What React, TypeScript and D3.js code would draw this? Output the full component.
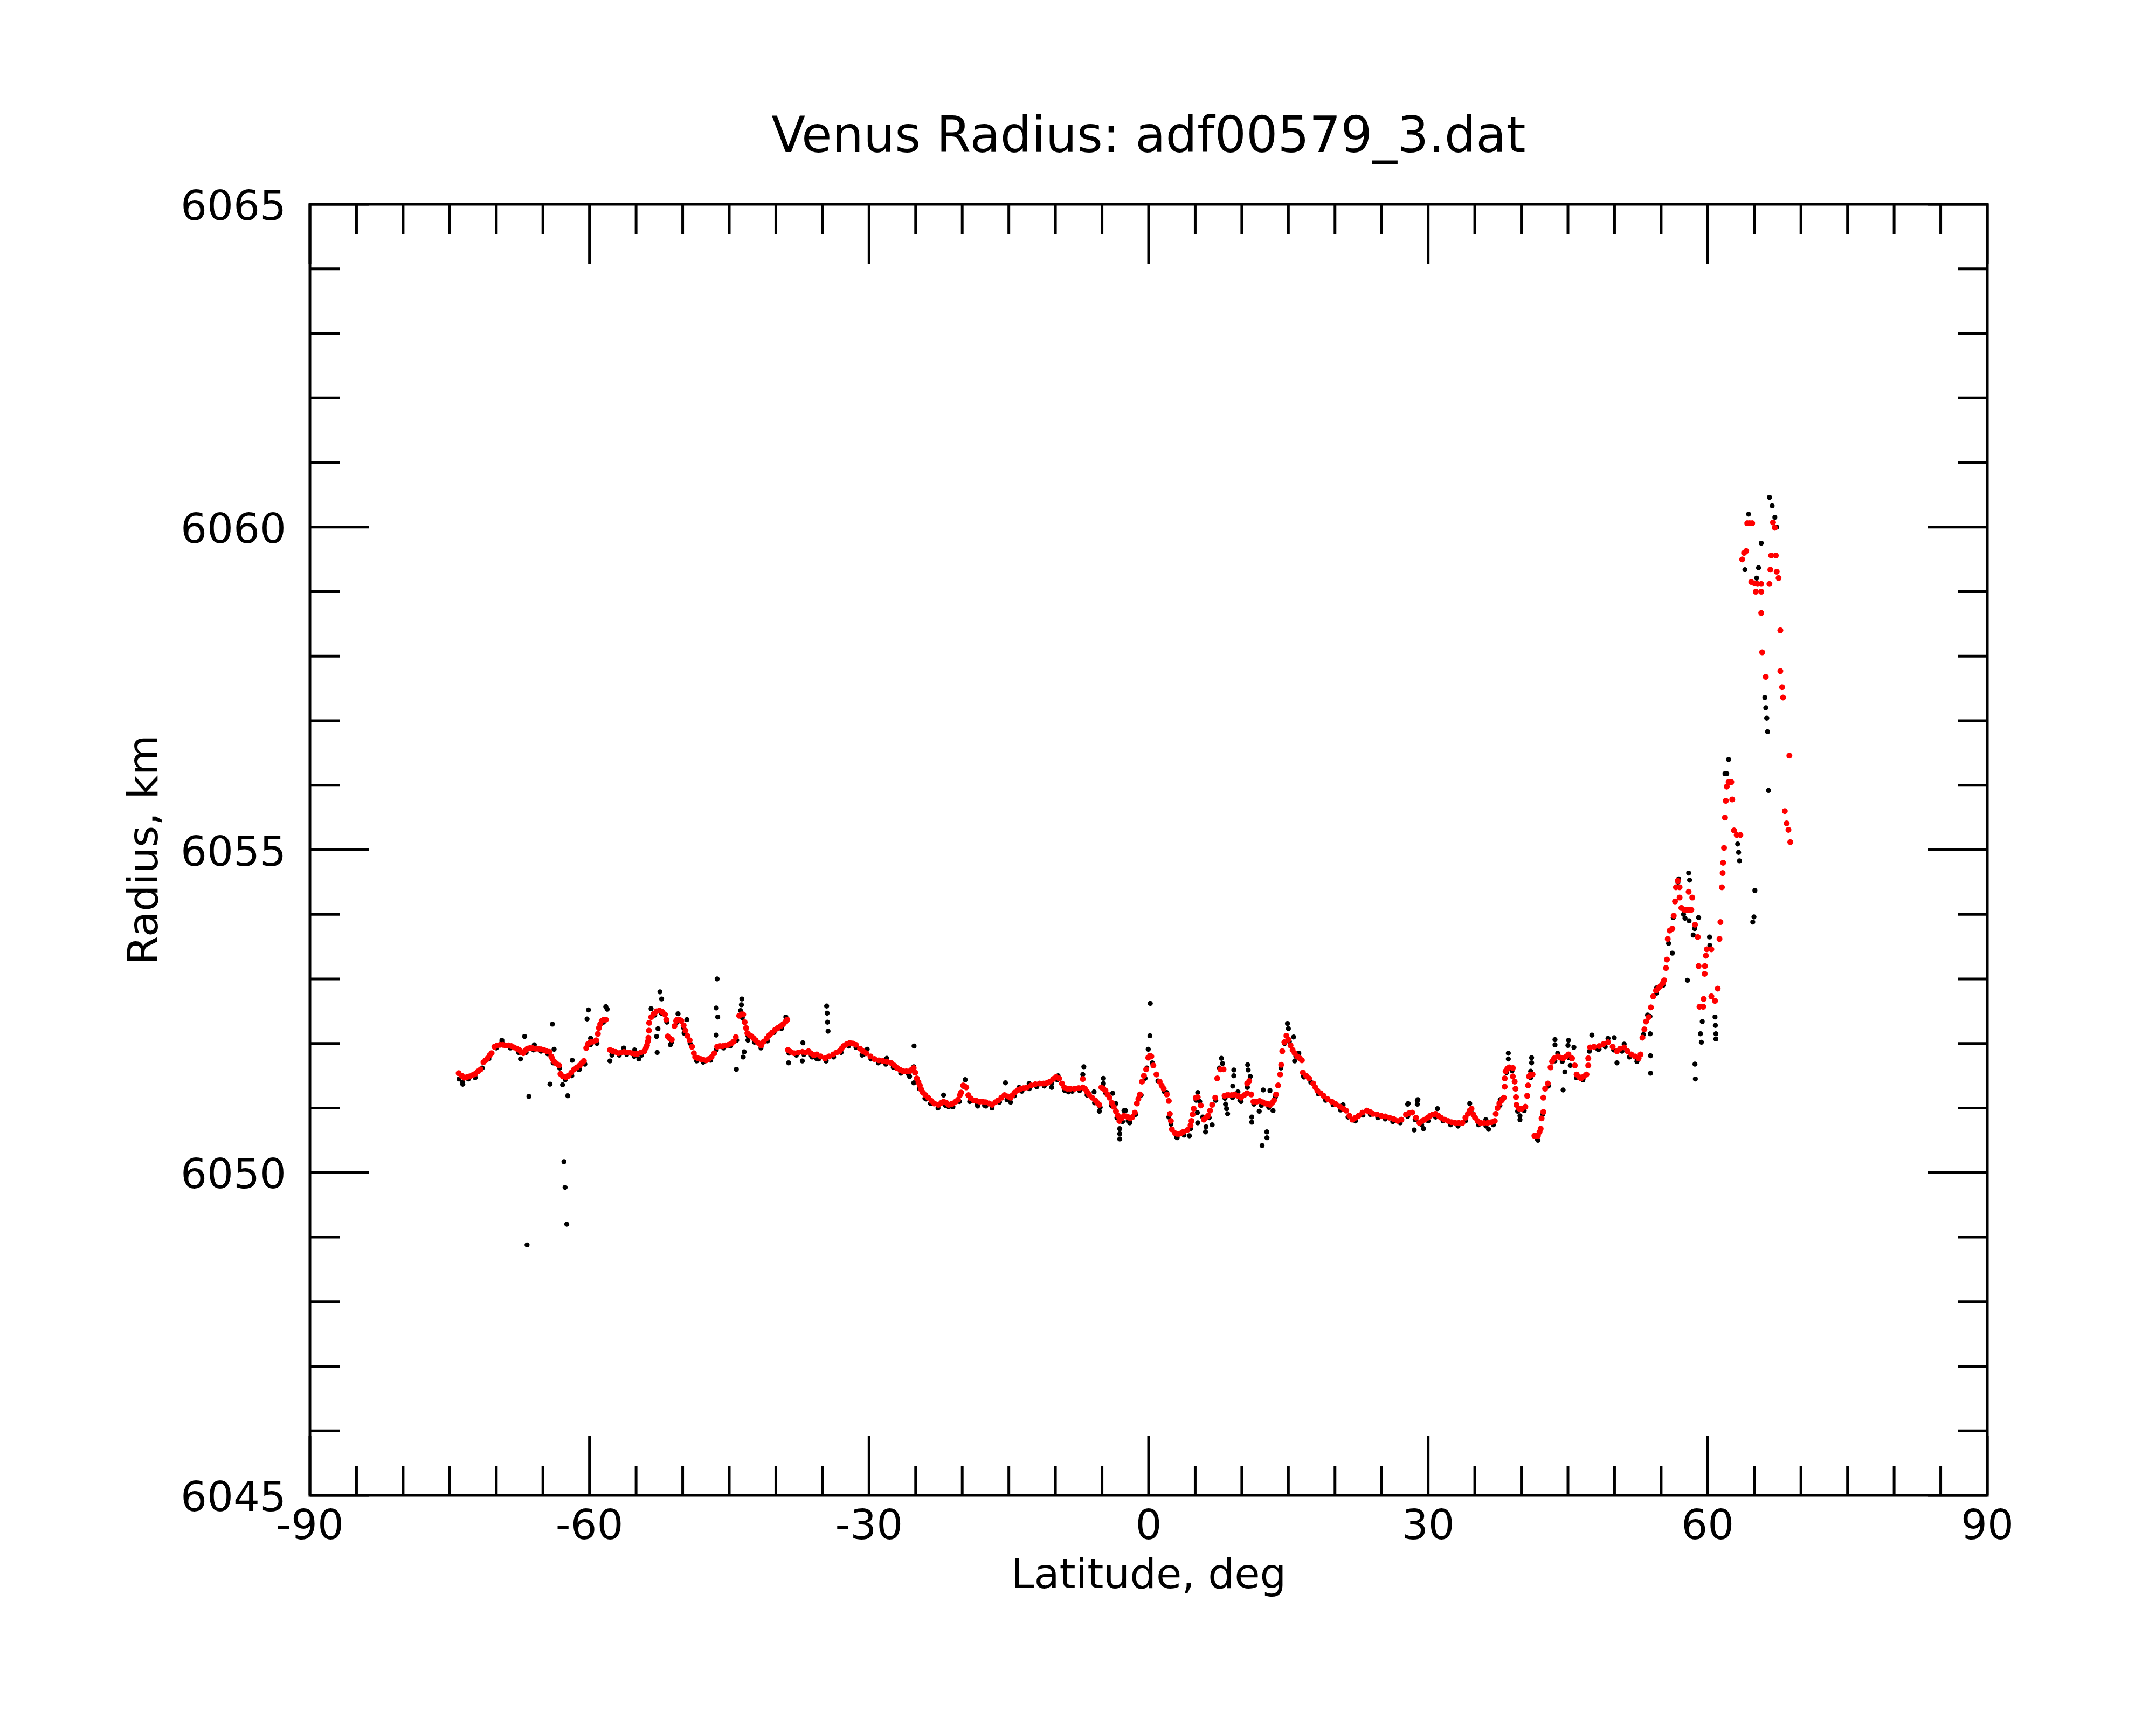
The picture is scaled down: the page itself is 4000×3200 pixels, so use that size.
import React from "react";
import * as d3 from "d3";

// ---------- chart text ----------
const title = "Venus Radius: adf00579_3.dat";
const xLabel = "Latitude, deg";
const yLabel = "Radius, km";
const xMajorTicks = [-90, -60, -30, 0, 30, 60, 90];
const yMajorTicks = [6045, 6050, 6055, 6060, 6065];

// ---------- smoothed profile (red) [latitude, radius] ----------
const smoothSouth: [number, number][] = [
  [-74.04, 6051.54], [-73.7, 6051.5], [-73.45, 6051.47], [-73.15, 6051.48], [-72.86, 6051.49],
  [-72.55, 6051.51], [-72.27, 6051.53], [-71.95, 6051.57], [-71.68, 6051.6], [-71.38, 6051.71],
  [-71.15, 6051.74], [-70.94, 6051.77], [-70.7, 6051.82], [-70.5, 6051.85], [-70.2, 6051.95],
  [-69.9, 6051.97], [-69.6, 6051.98], [-69.3, 6051.98], [-69.0, 6051.97], [-68.7, 6051.97],
  [-68.4, 6051.96], [-68.1, 6051.94], [-67.8, 6051.92], [-67.55, 6051.9], [-67.3, 6051.86],
  [-67.1, 6051.85], [-66.9, 6051.89], [-66.66, 6051.92], [-66.4, 6051.93], [-66.1, 6051.93],
  [-65.78, 6051.92], [-65.5, 6051.92], [-65.2, 6051.91], [-64.9, 6051.9], [-64.6, 6051.88],
  [-64.3, 6051.87], [-64.1, 6051.8], [-64.0, 6051.77], [-63.8, 6051.72], [-63.56, 6051.69],
  [-63.27, 6051.66], [-63.12, 6051.53], [-62.85, 6051.49], [-62.53, 6051.48], [-62.24, 6051.5],
  [-61.95, 6051.55], [-61.65, 6051.6], [-61.35, 6051.63], [-61.06, 6051.66], [-60.8, 6051.7],
  [-60.6, 6051.73], [-60.35, 6051.93], [-60.17, 6051.99], [-59.9, 6052.02], [-59.6, 6052.03],
  [-59.28, 6052.05], [-59.1, 6052.15], [-58.99, 6052.24], [-58.85, 6052.3], [-58.69, 6052.35],
  [-58.45, 6052.37], [-58.25, 6052.37], [-57.8, 6051.9], [-57.5, 6051.88], [-57.2, 6051.87],
  [-56.9, 6051.85], [-56.6, 6051.86], [-56.3, 6051.87], [-56.0, 6051.86], [-55.75, 6051.86],
  [-55.45, 6051.85], [-55.15, 6051.84], [-54.86, 6051.84], [-54.5, 6051.86], [-54.12, 6051.88],
  [-53.95, 6051.93], [-53.83, 6051.97], [-53.75, 6052.03], [-53.68, 6052.09], [-53.62, 6052.2],
  [-53.6, 6052.32], [-53.38, 6052.41], [-53.1, 6052.46], [-52.8, 6052.5], [-52.5, 6052.51],
  [-52.2, 6052.49], [-51.9, 6052.45], [-51.76, 6052.37], [-51.6, 6052.11], [-51.4, 6052.08],
  [-51.17, 6052.06], [-50.88, 6052.27], [-50.7, 6052.35], [-50.58, 6052.37], [-50.35, 6052.37],
  [-50.14, 6052.35], [-49.9, 6052.28], [-49.7, 6052.2], [-49.5, 6052.12], [-49.25, 6052.05],
  [-49.0, 6051.95], [-48.8, 6051.85], [-48.66, 6051.79], [-48.35, 6051.77], [-48.07, 6051.76],
  [-47.8, 6051.75], [-47.48, 6051.74], [-47.2, 6051.76], [-46.9, 6051.79], [-46.6, 6051.85],
  [-46.3, 6051.95], [-46.0, 6051.96], [-45.7, 6051.96], [-45.4, 6051.97], [-45.1, 6051.98],
  [-44.8, 6052.0], [-44.53, 6052.03], [-44.3, 6052.1], [-43.94, 6052.43], [-43.7, 6052.45],
  [-43.5, 6052.45], [-43.35, 6052.33], [-43.2, 6052.24], [-43.06, 6052.16], [-42.85, 6052.13],
  [-42.6, 6052.11], [-42.4, 6052.08], [-42.17, 6052.05], [-41.9, 6052.01], [-41.58, 6051.97],
  [-41.3, 6052.03], [-40.99, 6052.08], [-40.7, 6052.13], [-40.4, 6052.17], [-40.1, 6052.21],
  [-39.8, 6052.24], [-39.5, 6052.27], [-39.22, 6052.3], [-38.95, 6052.34], [-38.78, 6052.37],
];

const smoothMiddle: [number, number][] = [
  [-38.7, 6051.9], [-38.4, 6051.87], [-38.04, 6051.85], [-37.6, 6051.86], [-37.16, 6051.87],
  [-36.8, 6051.86], [-36.5, 6051.88], [-36.27, 6051.85], [-35.95, 6051.82], [-35.61, 6051.83],
  [-35.2, 6051.8], [-34.73, 6051.77], [-34.3, 6051.8], [-33.84, 6051.83], [-33.5, 6051.86],
  [-33.18, 6051.88], [-32.95, 6051.92], [-32.74, 6051.96], [-32.4, 6051.99], [-32.07, 6052.01],
  [-31.75, 6052.0], [-31.41, 6051.98], [-30.97, 6051.92], [-30.65, 6051.88], [-30.3, 6051.85],
  [-29.85, 6051.8], [-29.42, 6051.76], [-28.95, 6051.74], [-28.53, 6051.73], [-28.1, 6051.72],
  [-27.65, 6051.7], [-27.3, 6051.66], [-26.98, 6051.62], [-26.65, 6051.59], [-26.32, 6051.57],
  [-26.0, 6051.57], [-25.65, 6051.57], [-25.4, 6051.6], [-25.21, 6051.62], [-25.05, 6051.55],
  [-24.88, 6051.46], [-24.7, 6051.4], [-24.55, 6051.35], [-24.4, 6051.29], [-24.22, 6051.24],
  [-23.95, 6051.2], [-23.66, 6051.16], [-23.3, 6051.11], [-23.0, 6051.07], [-22.56, 6051.05],
  [-22.25, 6051.08], [-22.0, 6051.1], [-21.7, 6051.08], [-21.45, 6051.05], [-21.2, 6051.06],
  [-21.0, 6051.07], [-20.7, 6051.1], [-20.45, 6051.13], [-20.25, 6051.2], [-20.12, 6051.24],
  [-19.9, 6051.35], [-19.75, 6051.34], [-19.57, 6051.32], [-19.35, 6051.2], [-19.1, 6051.15],
  [-18.79, 6051.12], [-18.45, 6051.11], [-18.13, 6051.1], [-17.8, 6051.1], [-17.47, 6051.09],
  [-17.1, 6051.07], [-16.8, 6051.05], [-16.45, 6051.09], [-16.14, 6051.12], [-15.8, 6051.16],
  [-15.47, 6051.2], [-15.1, 6051.18], [-14.81, 6051.16], [-14.6, 6051.2], [-14.37, 6051.24],
  [-14.0, 6051.28], [-13.7, 6051.3], [-13.4, 6051.31], [-13.04, 6051.32], [-12.6, 6051.35],
  [-12.15, 6051.37], [-11.7, 6051.38], [-11.27, 6051.38], [-10.9, 6051.39], [-10.6, 6051.41],
  [-10.25, 6051.45], [-9.94, 6051.48], [-9.61, 6051.46], [-9.3, 6051.38], [-9.05, 6051.32],
  [-8.7, 6051.3], [-8.39, 6051.3], [-7.95, 6051.3], [-7.5, 6051.31], [-7.06, 6051.32],
  [-7.06, 6051.45], [-6.84, 6051.3], [-6.6, 6051.25], [-6.4, 6051.21], [-6.05, 6051.16],
  [-5.73, 6051.12], [-5.5, 6051.08], [-5.29, 6051.05], [-5.07, 6051.32], [-4.85, 6051.3],
  [-4.63, 6051.27], [-4.4, 6051.21], [-4.19, 6051.16], [-3.95, 6051.08], [-3.74, 6051.02],
  [-3.5, 6050.95], [-3.3, 6050.88], [-3.14, 6050.8], [-2.9, 6050.84], [-2.64, 6050.88],
  [-2.4, 6050.87], [-2.2, 6050.86], [-1.97, 6050.84], [-1.75, 6050.86], [-1.48, 6050.93],
  [-1.26, 6051.07], [-1.1, 6051.14], [-0.93, 6051.21], [-0.71, 6051.41], [-0.5, 6051.5],
  [-0.26, 6051.6], [-0.04, 6051.78], [0.15, 6051.81], [0.29, 6051.8], [0.51, 6051.66],
  [0.84, 6051.52], [1.18, 6051.41], [1.4, 6051.35], [1.62, 6051.3], [1.95, 6051.21],
  [2.17, 6051.11], [2.28, 6050.91], [2.39, 6050.8], [2.5, 6050.67], [2.84, 6050.61],
  [3.05, 6050.6], [3.28, 6050.6], [3.5, 6050.61], [3.72, 6050.63], [4.16, 6050.66],
  [4.5, 6050.73], [4.6, 6050.8], [4.72, 6050.9], [4.83, 6050.99], [5.05, 6051.16],
  [5.27, 6051.17], [5.6, 6051.04], [5.93, 6050.82], [6.15, 6050.85], [6.38, 6050.88],
  [6.6, 6050.96], [6.82, 6051.05], [7.15, 6051.16], [7.37, 6051.46], [7.7, 6051.6],
  [8.04, 6051.6], [8.15, 6051.19], [8.4, 6051.2], [8.6, 6051.2], [8.9, 6051.2],
  [9.25, 6051.21], [9.6, 6051.19], [9.92, 6051.16], [10.25, 6051.2], [10.58, 6051.23],
  [10.58, 6051.38], [10.8, 6051.42], [11.02, 6051.21], [11.25, 6051.1], [11.6, 6051.1],
  [11.91, 6051.11], [12.25, 6051.09], [12.57, 6051.07], [12.8, 6051.06], [13.02, 6051.05],
  [13.25, 6051.08], [13.46, 6051.12], [13.68, 6051.21], [13.9, 6051.35], [14.12, 6051.52],
  [14.23, 6051.67], [14.34, 6051.88], [14.57, 6052.02], [14.79, 6052.12], [15.01, 6052.06],
  [15.23, 6051.97], [15.45, 6051.9], [15.67, 6051.85], [15.95, 6051.8], [16.23, 6051.77],
  [16.45, 6051.74], [16.56, 6051.55], [16.9, 6051.5], [17.22, 6051.46], [17.67, 6051.38],
  [17.9, 6051.32], [18.11, 6051.27], [18.45, 6051.23], [18.78, 6051.19], [19.2, 6051.14],
  [19.66, 6051.1], [20.1, 6051.06], [20.54, 6051.02], [20.9, 6050.99], [21.2, 6050.96],
  [21.55, 6050.88], [21.87, 6050.82], [22.2, 6050.85], [22.53, 6050.88], [22.95, 6050.93],
  [23.42, 6050.96], [23.75, 6050.94], [24.08, 6050.91], [24.5, 6050.9], [24.97, 6050.88],
  [25.4, 6050.87], [25.85, 6050.85], [26.3, 6050.83], [26.74, 6050.8], [27.13, 6050.82],
  [27.62, 6050.9], [27.95, 6050.92], [28.29, 6050.93], [28.7, 6050.85], [29.06, 6050.77],
  [29.35, 6050.8], [29.64, 6050.82], [29.95, 6050.85], [30.21, 6050.88], [30.5, 6050.9],
  [30.79, 6050.91], [31.1, 6050.88], [31.37, 6050.85], [31.75, 6050.82], [32.14, 6050.8],
  [32.5, 6050.78], [32.91, 6050.77], [33.3, 6050.77], [33.68, 6050.77], [34.0, 6050.85],
  [34.26, 6050.91], [34.45, 6050.96], [34.65, 6050.99], [34.85, 6050.9], [35.03, 6050.85],
  [35.3, 6050.8], [35.61, 6050.77], [36.0, 6050.77], [36.38, 6050.77], [36.8, 6050.78],
  [37.15, 6050.8], [37.25, 6050.91], [37.45, 6051.0], [37.64, 6051.07], [37.9, 6051.12],
  [38.12, 6051.16], [38.21, 6051.33], [38.21, 6051.46], [38.31, 6051.57], [38.5, 6051.61],
  [38.7, 6051.63], [39.08, 6051.62], [39.08, 6051.49], [39.28, 6051.41], [39.37, 6051.3],
  [39.42, 6051.17], [39.47, 6051.05], [39.76, 6050.99], [40.05, 6050.99], [40.43, 6051.02],
  [40.63, 6051.19], [40.72, 6051.35], [40.82, 6051.49], [41.0, 6051.52], [41.2, 6051.52],
];

const smoothNorth: [number, number][] = [
  [41.4, 6050.57], [41.6, 6050.57], [41.78, 6050.57], [41.95, 6050.63], [42.07, 6050.68],
  [42.17, 6050.84], [42.36, 6050.94], [42.36, 6051.16], [42.55, 6051.3], [42.84, 6051.38],
  [43.13, 6051.63], [43.3, 6051.72], [43.52, 6051.77], [43.9, 6051.8], [44.2, 6051.78],
  [44.48, 6051.77], [44.8, 6051.8], [45.06, 6051.83], [45.44, 6051.77], [45.73, 6051.66],
  [45.93, 6051.52], [46.2, 6051.48], [46.41, 6051.46], [46.7, 6051.49], [46.99, 6051.52],
  [47.18, 6051.66], [47.18, 6051.77], [47.37, 6051.94], [47.8, 6051.95], [48.34, 6051.96],
  [48.8, 6051.99], [49.3, 6052.02], [49.8, 6051.95], [50.26, 6051.88], [50.6, 6051.92],
  [51.03, 6051.94], [51.4, 6051.88], [51.8, 6051.83], [52.2, 6051.8], [52.58, 6051.77],
  [52.79, 6051.83], [52.99, 6052.09], [53.2, 6052.22], [53.38, 6052.34], [53.67, 6052.41],
  [53.9, 6052.56], [54.15, 6052.73], [54.45, 6052.82], [54.7, 6052.86], [54.93, 6052.89],
  [55.15, 6052.93], [55.32, 6052.98], [55.52, 6053.17], [55.62, 6053.3], [55.71, 6053.62],
  [55.91, 6053.75], [56.2, 6053.78], [56.35, 6053.98], [56.49, 6054.2], [56.59, 6054.42],
  [56.78, 6054.52], [56.98, 6054.42], [56.98, 6054.26], [57.17, 6054.1], [57.47, 6054.07],
  [57.7, 6054.07], [57.95, 6054.07], [58.24, 6054.07], [57.95, 6054.35], [58.34, 6054.26],
  [58.63, 6053.84], [58.93, 6053.65], [59.02, 6053.2], [59.7, 6053.2], [59.67, 6053.08],
  [59.12, 6052.57], [59.51, 6052.57], [59.57, 6052.69], [59.8, 6053.36], [59.9, 6053.46],
  [60.39, 6053.46], [60.39, 6052.73], [60.78, 6052.66], [61.07, 6052.85], [61.26, 6053.62],
  [61.36, 6053.88], [61.52, 6054.42], [61.6, 6054.64], [61.65, 6054.8], [61.75, 6055.03],
  [61.85, 6055.5], [61.94, 6055.76], [62.04, 6055.98], [62.24, 6056.05], [62.53, 6056.05],
  [62.63, 6055.78], [62.82, 6055.3], [63.11, 6055.23], [63.5, 6055.23], [63.7, 6059.5],
  [63.9, 6059.6], [64.13, 6059.63], [64.24, 6060.06], [64.5, 6060.06], [64.77, 6060.06],
  [64.67, 6059.15], [65.0, 6059.13], [65.35, 6059.12], [65.74, 6059.12], [65.16, 6059.0],
  [65.74, 6059.0], [65.74, 6058.67], [65.84, 6058.06], [66.23, 6057.68], [66.81, 6059.56],
  [67.3, 6059.56], [67.0, 6060.07], [67.2, 6059.99], [66.72, 6059.34], [67.4, 6059.31],
  [67.6, 6059.21], [66.62, 6059.12], [67.79, 6058.4], [67.79, 6057.77], [67.98, 6057.52],
  [68.08, 6057.36], [68.76, 6056.46], [68.27, 6055.6], [68.47, 6055.41], [68.66, 6055.31],
  [68.86, 6055.12],
];

// ---------- raw measurements (black) [latitude, radius] ----------
const rawTrack: [number, number][] = [
  [-74.0, 6051.45], [-73.6, 6051.4], [-73.0, 6051.45], [-72.3, 6051.5], [-71.5, 6051.62],
  [-70.8, 6051.76], [-70.0, 6051.93], [-69.4, 6052.02], [-68.5, 6051.93], [-67.6, 6051.86],
  [-66.8, 6051.86], [-66.0, 6051.9], [-65.2, 6051.88], [-64.5, 6051.84], [-63.9, 6051.7],
  [-63.2, 6051.62], [-62.6, 6051.44], [-61.9, 6051.5], [-61.2, 6051.6], [-60.5, 6051.68],
  [-59.9, 6051.98], [-59.2, 6052.0], [-58.5, 6052.33], [-57.6, 6051.82], [-56.8, 6051.82],
  [-56.0, 6051.83], [-55.2, 6051.8], [-54.4, 6051.82], [-53.7, 6052.05], [-53.0, 6052.44],
  [-52.3, 6052.47], [-51.7, 6052.33], [-51.2, 6052.02], [-50.6, 6052.33], [-49.9, 6052.24],
  [-49.2, 6052.0], [-48.5, 6051.73], [-47.8, 6051.71], [-47.0, 6051.74], [-46.4, 6051.9],
  [-45.6, 6051.93], [-44.9, 6051.96], [-44.2, 6052.05], [-43.6, 6052.4], [-43.0, 6052.12],
  [-42.3, 6052.02], [-41.6, 6051.93], [-40.9, 6052.04], [-40.2, 6052.17], [-39.4, 6052.23],
  [-38.6, 6051.85], [-37.8, 6051.82], [-37.0, 6051.83], [-36.2, 6051.81], [-35.4, 6051.76],
  [-34.6, 6051.73], [-33.8, 6051.79], [-33.0, 6051.86], [-32.2, 6051.96], [-31.4, 6051.94],
  [-30.6, 6051.83], [-29.8, 6051.76], [-29.0, 6051.7], [-28.2, 6051.68], [-27.4, 6051.63],
  [-26.6, 6051.54], [-25.8, 6051.53], [-25.1, 6051.55], [-24.6, 6051.3], [-24.0, 6051.15],
  [-23.4, 6051.07], [-22.6, 6051.0], [-21.8, 6051.04], [-21.0, 6051.02], [-20.3, 6051.1],
  [-19.8, 6051.33], [-19.2, 6051.1], [-18.4, 6051.06], [-17.6, 6051.04], [-16.8, 6051.0],
  [-16.0, 6051.09], [-15.2, 6051.13], [-14.4, 6051.19], [-13.6, 6051.26], [-12.8, 6051.3],
  [-12.0, 6051.33], [-11.2, 6051.34], [-10.4, 6051.38], [-9.8, 6051.44], [-9.0, 6051.27],
  [-8.2, 6051.26], [-7.4, 6051.27], [-6.6, 6051.2], [-5.8, 6051.08], [-5.2, 6051.01],
  [-4.6, 6051.23], [-4.0, 6051.04], [-3.4, 6050.85], [-2.8, 6050.79], [-2.0, 6050.8],
  [-1.4, 6050.9], [-0.8, 6051.2], [-0.2, 6051.62], [0.4, 6051.7], [1.0, 6051.42],
  [1.7, 6051.25], [2.4, 6050.75], [3.0, 6050.55], [3.8, 6050.58], [4.5, 6050.68],
  [5.1, 6051.12], [5.8, 6050.86], [6.5, 6050.85], [7.2, 6051.12], [7.6, 6051.62],
  [8.2, 6051.15], [9.0, 6051.16], [9.8, 6051.12], [10.6, 6051.32], [11.3, 6051.06],
  [12.1, 6051.04], [12.9, 6051.01], [13.6, 6051.17], [14.2, 6051.62], [14.6, 6052.0],
  [15.1, 6052.03], [15.8, 6051.8], [16.6, 6051.5], [17.4, 6051.4], [18.2, 6051.22],
  [19.0, 6051.12], [19.8, 6051.05], [20.6, 6050.97], [21.4, 6050.86], [22.2, 6050.8],
  [23.0, 6050.89], [23.8, 6050.9], [24.6, 6050.85], [25.4, 6050.83], [26.2, 6050.79],
  [27.0, 6050.77], [27.8, 6050.87], [28.6, 6050.82], [29.3, 6050.74], [30.0, 6050.8],
  [30.8, 6050.86], [31.6, 6050.8], [32.4, 6050.74], [33.2, 6050.72], [34.0, 6050.8],
  [34.6, 6050.94], [35.4, 6050.74], [36.2, 6050.72], [37.0, 6050.74], [37.7, 6051.04],
  [38.4, 6051.55], [39.0, 6051.58], [39.6, 6050.95], [40.3, 6050.96], [41.0, 6051.47],
  [41.7, 6050.52], [42.3, 6050.9], [42.9, 6051.34], [43.6, 6051.73], [44.4, 6051.72],
  [45.1, 6051.78], [45.9, 6051.47], [46.6, 6051.44], [47.3, 6051.88], [48.2, 6051.91],
  [49.0, 6051.95], [49.9, 6051.9], [50.8, 6051.88], [51.6, 6051.79], [52.4, 6051.72],
  [53.1, 6052.14], [53.8, 6052.42], [54.5, 6052.78], [55.2, 6052.9], [55.8, 6053.55],
  [56.3, 6053.95], [56.8, 6054.5], [57.4, 6054.0], [58.0, 6053.9], [58.6, 6053.78],
];

const rawOutliersSouth: [number, number][] = [
  [-73.6, 6051.37], [-72.27, 6051.47], [-69.4, 6052.05], [-66.96, 6052.11], [-67.4, 6051.76],
  [-66.5, 6051.18], [-66.7, 6048.88], [-65.92, 6051.98], [-64.24, 6051.37], [-63.98, 6052.3],
  [-63.8, 6051.91], [-62.89, 6051.36], [-62.33, 6051.19], [-62.74, 6050.17], [-62.62, 6049.77],
  [-62.44, 6049.2], [-61.85, 6051.74], [-61.06, 6051.6], [-60.26, 6052.38], [-60.11, 6052.52],
  [-59.88, 6052.08], [-58.25, 6052.57], [-58.1, 6052.53], [-57.81, 6051.73], [-56.33, 6051.93],
  [-55.15, 6051.9], [-54.7, 6051.76], [-53.39, 6052.54], [-52.44, 6052.8], [-52.26, 6052.69],
  [-52.65, 6052.23], [-52.8, 6052.11], [-52.74, 6051.86], [-51.32, 6051.98], [-50.5, 6052.46],
  [-49.85, 6052.16], [-49.55, 6052.37], [-46.3, 6053.0], [-46.39, 6052.55], [-46.24, 6052.41],
  [-46.4, 6052.13], [-44.24, 6051.6], [-43.65, 6052.69], [-43.7, 6052.6], [-43.8, 6052.51],
  [-43.0, 6052.05], [-43.4, 6051.87], [-43.5, 6051.79], [-38.93, 6052.41], [-38.63, 6051.7],
  [-37.1, 6052.01], [-37.16, 6051.73], [-36.1, 6051.79], [-34.55, 6052.58], [-34.5, 6052.47],
  [-34.46, 6052.33], [-34.4, 6052.19], [-34.62, 6051.73], [-35.6, 6051.76], [-30.75, 6051.82],
  [-30.2, 6051.91], [-28.1, 6051.77], [-25.17, 6051.96], [-25.2, 6051.64], [-25.2, 6051.39],
  [-25.65, 6051.49], [-23.88, 6051.14], [-22.0, 6051.2], [-21.45, 6051.02], [-19.68, 6051.44],
  [-18.35, 6051.03], [-17.47, 6051.03], [-15.36, 6051.39], [-14.81, 6051.09], [-13.9, 6051.32],
  [-12.82, 6051.38], [-10.4, 6051.32], [-9.72, 6051.5], [-8.6, 6051.25], [-6.95, 6051.64],
  [-7.06, 6051.52], [-5.85, 6051.25], [-5.29, 6050.95], [-4.85, 6051.46], [-4.85, 6051.38],
  [-3.85, 6051.23], [-3.52, 6051.07], [-3.52, 6050.96], [-3.1, 6050.68], [-3.1, 6050.6],
  [-3.1, 6050.52], [-2.64, 6050.96], [-2.2, 6050.8], [-2.48, 6050.96], [-2.03, 6050.77],
];

const rawOutliersNorth: [number, number][] = [
  [0.18, 6052.62], [0.14, 6052.12], [-0.04, 6051.91], [-0.38, 6051.46], [1.95, 6051.24],
  [2.17, 6050.86], [3.06, 6050.54], [4.38, 6050.57], [5.27, 6051.24], [5.49, 6051.1],
  [5.23, 6050.93], [5.27, 6050.77], [6.11, 6050.63], [6.16, 6050.71], [6.82, 6050.74],
  [7.82, 6051.77], [7.93, 6051.69], [8.48, 6050.91], [8.37, 6050.99], [8.26, 6051.06],
  [9.03, 6051.34], [9.14, 6051.59], [9.14, 6051.5], [9.59, 6051.25], [9.92, 6051.1],
  [10.63, 6051.67], [10.69, 6051.59], [10.91, 6051.49], [11.07, 6050.86], [11.07, 6050.78],
  [11.87, 6050.95], [12.31, 6051.28], [12.68, 6050.63], [12.7, 6050.54], [12.18, 6050.42],
  [13.02, 6051.27], [13.35, 6050.96], [14.9, 6052.31], [15.0, 6052.23], [15.56, 6052.1],
  [16.12, 6051.85], [15.67, 6051.73], [16.67, 6051.48], [20.87, 6051.05], [27.85, 6051.07],
  [28.84, 6051.12], [28.84, 6051.06], [28.5, 6050.66], [29.5, 6050.68], [27.8, 6051.06],
  [28.9, 6051.13], [30.99, 6050.99], [34.46, 6051.07], [36.19, 6050.82], [36.48, 6050.67],
  [37.73, 6051.13], [38.6, 6051.85], [38.6, 6051.76], [38.7, 6051.62], [39.85, 6050.88],
  [39.85, 6050.82], [41.1, 6051.78], [41.1, 6051.7], [41.0, 6051.57], [41.78, 6050.5],
  [43.61, 6052.06], [43.61, 6051.98], [43.9, 6051.85], [44.48, 6051.28], [44.67, 6051.56],
  [45.06, 6052.05], [45.0, 6051.97], [45.25, 6051.66], [45.64, 6051.94], [46.6, 6051.44],
  [47.57, 6052.13], [48.34, 6051.91], [49.3, 6052.08], [49.97, 6052.09], [50.26, 6051.7],
  [51.03, 6051.99], [52.39, 6051.77], [53.83, 6052.15], [53.86, 6051.81], [53.86, 6051.54],
  [53.54, 6052.44], [54.51, 6052.86], [56.2, 6053.4], [56.88, 6054.55], [57.56, 6053.94],
  [57.95, 6054.64], [58.05, 6054.53], [58.44, 6053.68], [59.02, 6053.95], [57.82, 6052.98],
  [58.63, 6051.68], [58.67, 6051.45], [59.41, 6052.34], [59.22, 6052.15], [59.32, 6052.02],
  [60.78, 6052.41], [60.82, 6052.28], [60.87, 6052.15], [60.87, 6052.07], [60.19, 6053.65],
  [60.23, 6053.52], [61.85, 6056.18], [62.04, 6056.18], [62.24, 6056.4], [63.21, 6055.09],
  [63.31, 6054.96], [63.41, 6054.83], [65.06, 6054.37], [64.96, 6053.96], [64.83, 6053.88],
  [63.99, 6059.34], [64.38, 6060.2], [65.74, 6059.75], [65.45, 6059.37], [65.25, 6059.21],
  [66.13, 6057.36], [66.23, 6057.2], [66.33, 6057.04], [66.42, 6056.83], [66.52, 6055.92],
  [66.62, 6060.46], [66.91, 6060.33], [67.2, 6060.15], [67.4, 6060.0],
];

// ---------- layout ----------
const W = 4000;
const H = 3200;
const plot = { left: 575, right: 3687, top: 379, bottom: 2774 };
const FONT = "'DejaVu Sans', 'Liberation Sans', sans-serif";

export default function App() {
  const x = d3.scaleLinear().domain([-90, 90]).range([plot.left, plot.right]);
  const y = d3.scaleLinear().domain([6045, 6065]).range([plot.bottom, plot.top]);

  const xMinor = d3.range(-90, 91, 5).filter((v) => !xMajorTicks.includes(v));
  const yMinor = d3.range(6045, 6066, 1).filter((v) => !yMajorTicks.includes(v));

  const majorLen = 110;
  const minorLen = 55;
  const sw = 5;

  const raw = [...rawTrack, ...rawOutliersSouth, ...rawOutliersNorth];
  const smooth = [...smoothSouth, ...smoothMiddle, ...smoothNorth];

  const cx = (plot.left + plot.right) / 2;
  const cy = (plot.top + plot.bottom) / 2;

  return (
    <svg
      width={W}
      height={H}
      viewBox={`0 0 ${W} ${H}`}
      style={{ position: "absolute", left: 0, top: 0, background: "#fff" }}
      fontFamily={FONT}
    >
      <rect x={0} y={0} width={W} height={H} fill="#fff" />

      {/* data */}
      <g>
        {raw.map(([lat, r], i) => (
          <circle key={"b" + i} cx={x(lat)} cy={y(r)} r={4.7} fill="#000" />
        ))}
      </g>
      <g>
        {smooth.map(([lat, r], i) => (
          <circle key={"r" + i} cx={x(lat)} cy={y(r)} r={5.5} fill="#ff0000" />
        ))}
      </g>

      {/* ticks */}
      <g stroke="#000" strokeWidth={sw}>
        {xMajorTicks.map((v) => (
          <g key={"xm" + v}>
            <line x1={x(v)} x2={x(v)} y1={plot.bottom} y2={plot.bottom - majorLen} />
            <line x1={x(v)} x2={x(v)} y1={plot.top} y2={plot.top + majorLen} />
          </g>
        ))}
        {xMinor.map((v) => (
          <g key={"xn" + v}>
            <line x1={x(v)} x2={x(v)} y1={plot.bottom} y2={plot.bottom - minorLen} />
            <line x1={x(v)} x2={x(v)} y1={plot.top} y2={plot.top + minorLen} />
          </g>
        ))}
        {yMajorTicks.map((v) => (
          <g key={"ym" + v}>
            <line x1={plot.left} x2={plot.left + majorLen} y1={y(v)} y2={y(v)} />
            <line x1={plot.right} x2={plot.right - majorLen} y1={y(v)} y2={y(v)} />
          </g>
        ))}
        {yMinor.map((v) => (
          <g key={"yn" + v}>
            <line x1={plot.left} x2={plot.left + minorLen} y1={y(v)} y2={y(v)} />
            <line x1={plot.right} x2={plot.right - minorLen} y1={y(v)} y2={y(v)} />
          </g>
        ))}
      </g>

      {/* frame */}
      <rect
        x={plot.left}
        y={plot.top}
        width={plot.right - plot.left}
        height={plot.bottom - plot.top}
        fill="none"
        stroke="#000"
        strokeWidth={sw}
      />

      {/* tick labels */}
      <g fontSize={77} fill="#000">
        {xMajorTicks.map((v) => (
          <text key={"xl" + v} x={x(v)} y={plot.bottom + 81} textAnchor="middle">
            {String(v)}
          </text>
        ))}
        {yMajorTicks.map((v) => (
          <text key={"yl" + v} x={plot.left - 44} y={y(v) + 29} textAnchor="end">
            {String(v)}
          </text>
        ))}
      </g>

      {/* axis labels */}
      <text x={cx} y={2946} fontSize={77} textAnchor="middle" fill="#000">
        {xLabel}
      </text>
      <text
        transform={`translate(292, ${cy}) rotate(-90)`}
        fontSize={77}
        textAnchor="middle"
        fill="#000"
      >
        {yLabel}
      </text>

      {/* title */}
      <text x={cx} y={282} fontSize={92} textAnchor="middle" fill="#000">
        {title}
      </text>
    </svg>
  );
}
